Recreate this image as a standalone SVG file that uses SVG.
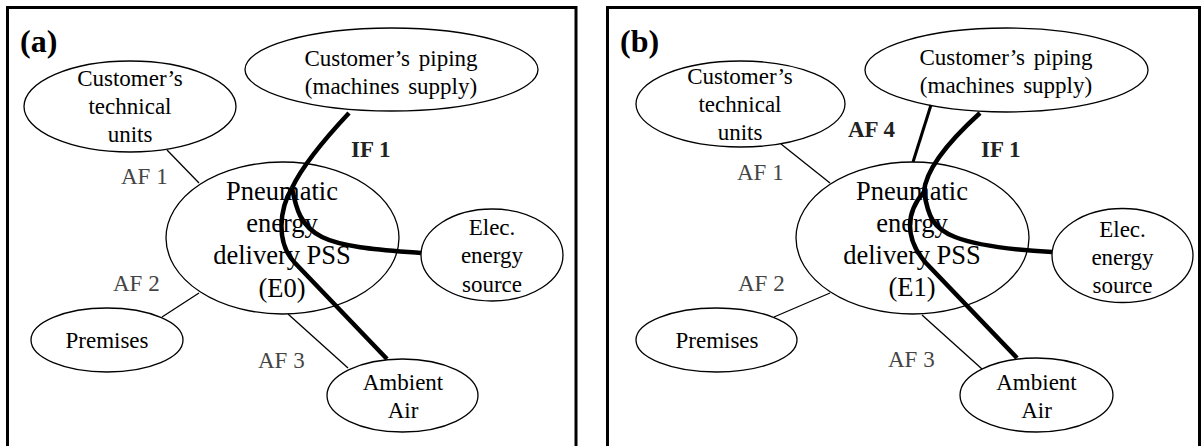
<svg xmlns="http://www.w3.org/2000/svg" width="1204" height="446" viewBox="0 0 1204 446">
<style>
.frame{fill:none;stroke:#000;stroke-width:3}
.node ellipse{fill:#fff;stroke:#000;stroke-width:1.3}
text{font-family:"Liberation Serif","Times New Roman",serif;fill:#000}
.t{font-size:23px;text-anchor:middle}
.m{font-size:26.5px;text-anchor:middle}
.af{font-size:23px;fill:#444}
.b{font-size:23px;font-weight:bold;fill:#222}
.title{font-size:32px;font-weight:bold}
.thin{stroke:#000;stroke-width:1.3;fill:none}
.af4{stroke:#000;stroke-width:3;fill:none}
.if{stroke:#000;stroke-width:4.5;fill:none;stroke-linecap:butt}
</style>
<rect width="1204" height="446" fill="#fff"/>
<rect class="frame" x="7.5" y="7.5" width="568.5" height="460"/>
<rect class="frame" x="607.5" y="7.5" width="592" height="460"/>
<text class="title" x="20" y="52">(a)</text>
<text class="title" x="620" y="52">(b)</text>

<!-- Panel (a) nodes -->
<g id="a-technical" class="node"><ellipse cx="130" cy="106.5" rx="106" ry="45.5"/>
<text class="t" x="130" y="86">Customer’s</text><text class="t" x="130" y="114">technical</text><text class="t" x="130" y="142">units</text></g>
<g id="a-piping" class="node"><ellipse cx="391.5" cy="69.5" rx="146.5" ry="41.5"/>
<text class="t" x="391" y="66" word-spacing="3">Customer’s piping</text><text class="t" x="391" y="94" word-spacing="3">(machines supply)</text></g>
<g id="a-pss" class="node"><ellipse cx="282.5" cy="238" rx="116.5" ry="76"/>
<text class="m" x="282" y="200">Pneumatic</text><text class="m" x="282" y="232">energy</text><text class="m" x="282" y="264">delivery PSS</text><text class="m" x="282" y="297">(E0)</text></g>
<g id="a-elec" class="node"><ellipse cx="492" cy="255" rx="71" ry="46"/>
<text class="t" x="492" y="235">Elec.</text><text class="t" x="492" y="263">energy</text><text class="t" x="492" y="292">source</text></g>
<g id="a-ambient" class="node"><ellipse cx="402.5" cy="395.5" rx="75.5" ry="36.5"/>
<text class="t" x="403" y="390">Ambient</text><text class="t" x="403" y="418">Air</text></g>
<g id="a-premises" class="node"><ellipse cx="107" cy="340" rx="76" ry="32"/>
<text class="t" x="107" y="348">Premises</text></g>

<!-- Panel (b) nodes -->
<g id="b-technical" class="node"><ellipse cx="740.5" cy="104" rx="104.5" ry="43"/>
<text class="t" x="740" y="84">Customer’s</text><text class="t" x="740" y="112">technical</text><text class="t" x="740" y="140">units</text></g>
<g id="b-piping" class="node"><ellipse cx="1006.5" cy="70" rx="141.5" ry="42"/>
<text class="t" x="1006" y="65" word-spacing="3">Customer’s piping</text><text class="t" x="1006" y="93" word-spacing="3">(machines supply)</text></g>
<g id="b-pss" class="node"><ellipse cx="912.5" cy="238" rx="116.5" ry="76"/>
<text class="m" x="912" y="200">Pneumatic</text><text class="m" x="912" y="232">energy</text><text class="m" x="912" y="264">delivery PSS</text><text class="m" x="912" y="296">(E1)</text></g>
<g id="b-elec" class="node"><ellipse cx="1122.5" cy="255.5" rx="70.5" ry="47"/>
<text class="t" x="1122.5" y="237">Elec.</text><text class="t" x="1122.5" y="265">energy</text><text class="t" x="1122.5" y="293">source</text></g>
<g id="b-ambient" class="node"><ellipse cx="1036.5" cy="395" rx="76.5" ry="37"/>
<text class="t" x="1036.5" y="390">Ambient</text><text class="t" x="1036.5" y="418">Air</text></g>
<g id="b-premises" class="node"><ellipse cx="716.5" cy="340" rx="80.5" ry="32"/>
<text class="t" x="717" y="348">Premises</text></g>

<!-- Connectors -->
<g id="connectors">
<line class="thin" x1="167" y1="150" x2="199" y2="183"/>
<line class="thin" x1="199" y1="293" x2="162" y2="317"/>
<line class="thin" x1="288" y1="314" x2="348" y2="368"/>
<path class="if" d="M349,113 Q305,160 292,188"/>
<path class="if" d="M292,188 C280,208 275,242 295,263 L387,359"/>
<path class="if" d="M292,188 C296,208 300,226 322,237 S385,250 421,253"/>

<line class="thin" x1="781" y1="144" x2="830" y2="183"/>
<line class="thin" x1="830" y1="293" x2="774" y2="317"/>
<line class="thin" x1="922" y1="315" x2="982" y2="369"/>
<line class="af4" x1="931" y1="105" x2="913" y2="162"/>
<path class="if" d="M980,113 Q926,162 924,192"/>
<path class="if" d="M924,192 C906,212 904,238 926,263 L1017,358"/>
<path class="if" d="M924,192 C928,215 932,228 955,237 S1015,250 1052,252"/>
</g>

<!-- Connector labels -->
<text class="af" x="121" y="184">AF 1</text>
<text class="af" x="113" y="291">AF 2</text>
<text class="af" x="258" y="368">AF 3</text>
<text class="b" x="351" y="157">IF 1</text>
<text class="af" x="737" y="180">AF 1</text>
<text class="af" x="738" y="291">AF 2</text>
<text class="af" x="888" y="367">AF 3</text>
<text class="b" x="848" y="137">AF 4</text>
<text class="b" x="981" y="157">IF 1</text>
</svg>
